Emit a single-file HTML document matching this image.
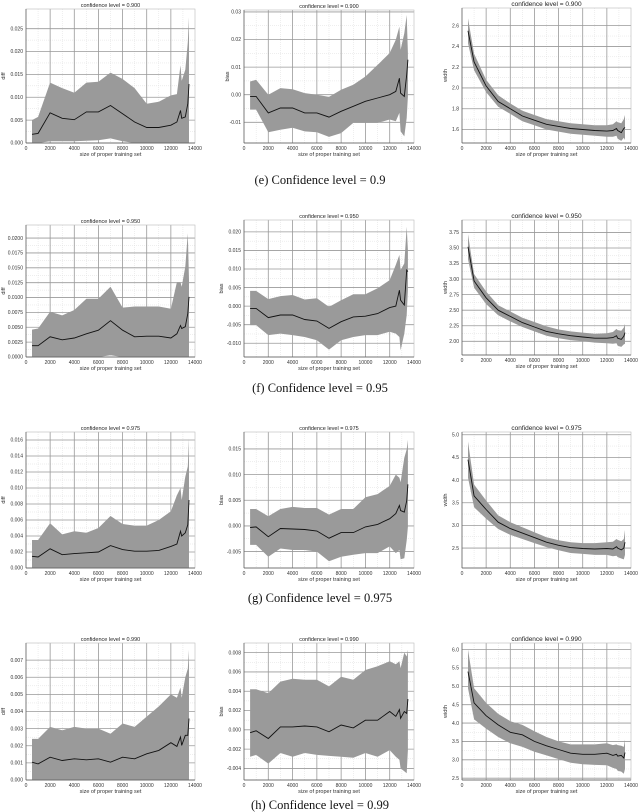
<!DOCTYPE html>
<html><head><meta charset="utf-8"><style>
html,body{margin:0;padding:0;background:#fff;}
svg{display:block;}
text{font-family:"Liberation Sans",sans-serif;}
.cap{font-family:"Liberation Serif",serif;font-size:12.5px;fill:#111;}
</style></head><body>
<svg id="fig" width="640" height="812" viewBox="0 0 640 812" xmlns="http://www.w3.org/2000/svg">
<text class="cap" x="320" y="184" text-anchor="middle">(e) Confidence level = 0.9</text>
<text class="cap" x="320" y="392" text-anchor="middle">(f) Confidence level = 0.95</text>
<text class="cap" x="320" y="602" text-anchor="middle">(g) Confidence level = 0.975</text>
<text class="cap" x="320" y="809" text-anchor="middle">(h) Confidence level = 0.99</text>
</svg>
<script>
const xSizes = [500,1000,2000,3000,4000,5000,6000,7000,8000,9000,10000,11000,12000,12500,12800,12900,13200,13400,13500];
const xTicks = [0,2000,4000,6000,8000,10000,12000,14000];
const levels = ["0.900","0.950","0.975","0.990"];

// Row 1 (0.900)
const r1DiffMean = [.0019,.0021,.0066,.0054,.0051,.0068,.0068,.0082,.0064,.0046,.0034,.0034,.0039,.0046,.0071,.0054,.0057,.0086,.0129];
const r1DiffUpper = [.005,.0057,.0132,.012,.011,.0132,.0134,.0154,.014,.012,.0086,.009,.0104,.0107,.017,.0136,.016,.022,.0275];
const r1DiffLower = [0,0,.0004,.0004,.0004,.0005,.0006,.001,.0004,0,0,0,0,0,0,0,0,0,0];
const r1DiffTicks = [0,.005,.010,.015,.020,.025];
const r1BiasMean = [-.0006,-.0006,-.0066,-.0048,-.0048,-.0066,-.0066,-.0081,-.006,-.0042,-.0024,-.0012,0,.0012,.006,.0006,-.0006,.0072,.0127];
const r1BiasUpper = [.0048,.0054,0,.0024,.002,.0006,0,-.0008,.0018,.0036,.0066,.0108,.0151,.0199,.0247,.0163,.0223,.0289,.0151];
const r1BiasLower = [-.0054,-.0054,-.0136,-.0127,-.012,-.0133,-.0136,-.0153,-.0139,-.0102,-.0102,-.0102,-.009,-.0096,-.0066,-.0133,-.0151,-.0084,-.0006];
const r1BiasTicks = [-.01,0,.01,.02,.03];
const r1WidthMean = [2.55,2.25,2.02,1.87,1.80,1.73,1.69,1.65,1.63,1.61,1.60,1.59,1.585,1.59,1.61,1.59,1.57,1.61,1.62];
const r1WidthUpper = [2.67,2.33,2.08,1.93,1.85,1.78,1.74,1.70,1.68,1.66,1.65,1.64,1.64,1.65,1.68,1.67,1.66,1.70,1.74];
const r1WidthLower = [2.43,2.17,1.96,1.82,1.75,1.68,1.64,1.60,1.58,1.56,1.55,1.54,1.53,1.53,1.54,1.51,1.49,1.52,1.50];
const r1WidthTicks = [1.6,1.8,2.0,2.2,2.4,2.6];

// Row 2 (0.950)
const r2DiffMean = [.0019,.0019,.0034,.0029,.0032,.0039,.0045,.0061,.0045,.0034,.0035,.0035,.0032,.0039,.0053,.0048,.0051,.0073,.0101];
const r2DiffUpper = [.0046,.0048,.0076,.007,.0079,.0098,.0098,.0118,.0083,.0085,.0085,.0085,.0081,.0126,.0126,.0118,.0152,.0208,.0129];
const r2DiffLower = [0,0,0,0,0,0,0,.0003,0,0,0,0,0,0,0,0,0,0,0];
const r2DiffTicks = [0,.0025,.005,.0075,.01,.0125,.015,.0175,.02];
const r2BiasMean = [-.0006,-.0006,-.0031,-.0024,-.0024,-.0036,-.004,-.006,-.0042,-.0029,-.0027,-.002,-.0004,0,.0043,.0016,.0003,.0097,.0093];
const r2BiasUpper = [.0041,.0041,.0019,.0027,.003,.0018,.0021,-.0002,.0016,.0032,.0032,.0048,.007,.0111,.0138,.0097,.0115,.0214,.0151];
const r2BiasLower = [-.0051,-.0051,-.0078,-.0074,-.0078,-.0083,-.0092,-.0117,-.0092,-.0083,-.0078,-.0078,-.0069,-.0074,-.0083,-.0119,-.0074,-.0024,.0043];
const r2BiasTicks = [-.01,-.005,0,.005,.01,.015,.02];
const r2WidthMean = [3.52,2.97,2.70,2.50,2.40,2.30,2.23,2.16,2.12,2.09,2.07,2.05,2.05,2.06,2.09,2.05,2.03,2.08,2.14];
const r2WidthUpper = [3.72,3.08,2.80,2.58,2.48,2.38,2.31,2.24,2.19,2.16,2.14,2.12,2.13,2.15,2.20,2.18,2.17,2.22,2.28];
const r2WidthLower = [3.32,2.86,2.60,2.42,2.32,2.23,2.16,2.09,2.05,2.02,2.00,1.98,1.97,1.96,1.97,1.93,1.91,1.95,1.96];
const r2WidthTicks = [2.0,2.25,2.5,2.75,3.0,3.25,3.5,3.75];

// Row 3 (0.975)
const r3DiffMean = [.00146,.00137,.0024,.00166,.0018,.0019,.002,.0028,.0023,.0021,.0021,.0022,.0027,.003,.0046,.004,.0044,.0054,.0085];
const r3DiffUpper = [.0035,.0035,.0056,.0042,.0046,.0044,.005,.0065,.0055,.0053,.0053,.006,.0071,.0091,.01,.0085,.0114,.0127,.0162];
const r3DiffLower = [0,0,0,0,0,0,0,0,0,0,0,0,0,0,0,0,0,0,0];
const r3DiffTicks = [0,.002,.004,.006,.008,.010,.012,.014,.016];
const r3BiasMean = [-.0003,-.0002,-.0021,-.0005,-.0006,-.0007,-.001,-.0024,-.0013,-.0013,-.0002,.0003,.0014,.0024,.004,.003,.0027,.0049,.0081];
const r3BiasUpper = [.0033,.0033,.0019,.0033,.0037,.0035,.0035,.0022,.0033,.0033,.0056,.0062,.0078,.01,.0094,.0085,.0133,.0149,.0168];
const r3BiasLower = [-.0037,-.0037,-.006,-.0044,-.0047,-.0047,-.005,-.0069,-.006,-.0056,-.0053,-.0053,-.004,-.0053,-.0047,-.0065,-.0063,-.0028,-.0002];
const r3BiasTicks = [-.005,0,.005,.01,.015];
const r3WidthMean = [4.45,3.65,3.35,3.07,2.93,2.83,2.73,2.63,2.56,2.51,2.49,2.48,2.49,2.48,2.53,2.50,2.46,2.50,2.63];
const r3WidthUpper = [4.85,3.90,3.55,3.22,3.07,2.96,2.85,2.74,2.67,2.63,2.61,2.61,2.63,2.64,2.70,2.68,2.65,2.70,2.90];
const r3WidthLower = [4.05,3.40,3.15,2.92,2.79,2.70,2.61,2.52,2.45,2.39,2.37,2.35,2.35,2.32,2.33,2.30,2.27,2.25,2.35];
const r3WidthTicks = [2.5,3.0,3.5,4.0,4.5,5.0];

// Row 4 (0.990)
const r4DiffMean = [.00104,.00094,.00133,.00114,.00124,.00118,.00124,.00104,.00133,.00124,.00153,.00173,.00218,.00196,.00251,.00202,.00261,.00261,.00359];
const r4DiffUpper = [.0024,.0024,.0031,.0029,.0031,.003,.003,.0027,.0033,.0031,.0037,.0043,.005,.0048,.0054,.0048,.006,.0065,.0076];
const r4DiffLower = [0,0,0,0,0,0,0,0,0,0,0,0,0,0,0,0,0,0,0];
const r4DiffTicks = [0,.001,.002,.003,.004,.005,.006,.007];
const r4BiasMean = [-.0003,-.0001,-.0009,.0003,.0003,.0004,.0003,-.0002,.0005,.0002,.001,.001,.0019,.0014,.0021,.0012,.0019,.0017,.0032];
const r4BiasUpper = [.0042,.0042,.0038,.005,.0053,.0052,.0052,.0045,.0055,.0052,.0062,.0066,.0071,.0068,.0071,.0064,.008,.0076,.0083];
const r4BiasLower = [-.0028,-.0026,-.0035,-.0024,-.0028,-.0024,-.0026,-.0027,-.0028,-.0029,-.0024,-.0028,-.0021,-.0028,-.0031,-.004,-.0043,-.0045,-.0021];
const r4BiasTicks = [-.004,-.002,0,.002,.004,.006,.008];
const r4WidthMean = [5.40,4.55,4.20,3.95,3.75,3.68,3.50,3.38,3.28,3.18,3.15,3.15,3.18,3.12,3.15,3.10,3.12,3.05,3.20];
const r4WidthUpper = [6.00,4.95,4.55,4.25,4.05,3.95,3.78,3.62,3.50,3.42,3.42,3.42,3.45,3.40,3.42,3.40,3.38,3.35,3.55];
const r4WidthLower = [4.95,4.10,3.85,3.62,3.45,3.35,3.22,3.12,3.02,2.92,2.88,2.86,2.85,2.78,2.75,2.70,2.68,2.62,2.75];
const r4WidthTicks = [2.5,3.0,3.5,4.0,4.5,5.0,5.5,6.0];

const panels = [
 {row:0,col:0,name:"diff",mean:r1DiffMean,up:r1DiffUpper,lo:r1DiffLower,ticks:r1DiffTicks,dom:[0,.0293],dec:3},
 {row:0,col:1,name:"bias",mean:r1BiasMean,up:r1BiasUpper,lo:r1BiasLower,ticks:r1BiasTicks,dom:[-.0175,.0307],dec:2},
 {row:0,col:2,name:"width",mean:r1WidthMean,up:r1WidthUpper,lo:r1WidthLower,ticks:r1WidthTicks,dom:[1.47,2.77],dec:1},
 {row:1,col:0,name:"diff",mean:r2DiffMean,up:r2DiffUpper,lo:r2DiffLower,ticks:r2DiffTicks,dom:[0,.0222],dec:4},
 {row:1,col:1,name:"bias",mean:r2BiasMean,up:r2BiasUpper,lo:r2BiasLower,ticks:r2BiasTicks,dom:[-.0137,.0232],dec:3},
 {row:1,col:2,name:"width",mean:r2WidthMean,up:r2WidthUpper,lo:r2WidthLower,ticks:r2WidthTicks,dom:[1.78,3.95],dec:2},
 {row:2,col:0,name:"diff",mean:r3DiffMean,up:r3DiffUpper,lo:r3DiffLower,ticks:r3DiffTicks,dom:[0,.017],dec:3},
 {row:2,col:1,name:"bias",mean:r3BiasMean,up:r3BiasUpper,lo:r3BiasLower,ticks:r3BiasTicks,dom:[-.0082,.0183],dec:3},
 {row:2,col:2,name:"width",mean:r3WidthMean,up:r3WidthUpper,lo:r3WidthLower,ticks:r3WidthTicks,dom:[2.06,5.06],dec:1},
 {row:3,col:0,name:"diff",mean:r4DiffMean,up:r4DiffUpper,lo:r4DiffLower,ticks:r4DiffTicks,dom:[0,.008],dec:3},
 {row:3,col:1,name:"bias",mean:r4BiasMean,up:r4BiasUpper,lo:r4BiasLower,ticks:r4BiasTicks,dom:[-.0052,.009],dec:3},
 {row:3,col:2,name:"width",mean:r4WidthMean,up:r4WidthUpper,lo:r4WidthLower,ticks:r4WidthTicks,dom:[2.45,6.18],dec:1}
];
const colX = [[26,195],[244,414],[462,631]];
const rowY = [[[9,143],[10,143],[8,143]],[[225,357],[220,357],[220,355]],[[432,568],[432,568],[432,568]],[[643,780],[643,780],[643,780]]];

const NS = "http://www.w3.org/2000/svg";
const fig = document.getElementById("fig");
function mk(tag, attrs, parent){
  const e = document.createElementNS(NS, tag);
  for (const k in attrs) e.setAttribute(k, attrs[k]);
  parent.appendChild(e);
  return e;
}

panels.forEach(p => {
  const [L,R] = colX[p.col];
  const [T,B] = rowY[p.row][p.col];
  const xS = v => L + (v - 0) / 14000 * (R - L);
  const yS = v => B - (v - p.dom[0]) / (p.dom[1] - p.dom[0]) * (B - T);
  const g = mk("g", {}, fig);
  
  

  for (let i = 0; i < p.ticks.length - 1; i++) {
    const m = (p.ticks[i] + p.ticks[i+1]) / 2;
    if (m > p.dom[0] && m < p.dom[1]) mk("line",{x1:L,x2:R,y1:yS(m),y2:yS(m),stroke:"#ddd","stroke-width":0.5,"stroke-dasharray":"1,1"},g);
  }
  for (let i = 0; i < xTicks.length - 1; i++) {
    const m = (xTicks[i] + xTicks[i+1]) / 2;
    mk("line",{x1:xS(m),x2:xS(m),y1:T,y2:B,stroke:"#ddd","stroke-width":0.5,"stroke-dasharray":"1,1"},g);
  }
  p.ticks.forEach(t => {
    mk("line",{x1:L,x2:R,y1:yS(t),y2:yS(t),stroke:"#999","stroke-width":0.8},g);
    const tl = mk("text",{x:L-3,y:yS(t)+1.7,"font-size":5,"text-anchor":"end",fill:"#333"},g);
    tl.textContent = t.toFixed(p.dec);
    
    
  });
  xTicks.forEach(t => {
    if (t > 0 && t < 14000) mk("line",{x1:xS(t),x2:xS(t),y1:T,y2:B,stroke:"#999","stroke-width":0.8},g);
    const tl = mk("text",{x:xS(t),y:B+7,"font-size":5,"text-anchor":"middle",fill:"#333"},g);
    tl.textContent = String(t);
    
    
  });
  let d = "";
  xSizes.forEach((x,i) => { d += (i ? "L" : "M") + xS(x).toFixed(1) + "," + yS(p.up[i]).toFixed(1); });
  for (let i = xSizes.length - 1; i >= 0; i--) d += "L" + xS(xSizes[i]).toFixed(1) + "," + yS(p.lo[i]).toFixed(1);
  const band = mk("path",{d:d+"Z",fill:"#9a9a9a",stroke:"none"},g);
  
  
  let dl = "";
  xSizes.forEach((x,i) => { dl += (i ? "L" : "M") + xS(x).toFixed(1) + "," + yS(p.mean[i]).toFixed(1); });
  const line = mk("path",{d:dl,fill:"none",stroke:"#111","stroke-width":0.9},g);
  
  
  mk("rect",{x:L,y:T,width:R-L,height:B-T,fill:"none",stroke:"#bbb","stroke-width":0.6},g);
  mk("line",{x1:L,x2:L,y1:T,y2:B,stroke:"#555","stroke-width":0.7},g);
  mk("line",{x1:L,x2:R,y1:B,y2:B,stroke:"#555","stroke-width":0.7},g);
  const tt = mk("text",{x:(L+R)/2,y:Math.max(T-2,6),"font-size":p.col==2?6.5:5.5,"text-anchor":"middle",fill:"#222"},g);
  tt.textContent = "confidence level = " + levels[p.row];
  
  
  const xl = mk("text",{x:(L+R)/2,y:B+13,"font-size":5.5,"text-anchor":"middle",fill:"#333"},g);
  xl.textContent = "size of proper training set";
  
  
  const yc = (T+B)/2, yx = L - (p.dec >= 3 ? 21 : 15);
  const yl = mk("text",{x:yx,y:yc,"font-size":5.5,"text-anchor":"middle",fill:"#333",transform:"rotate(-90 "+yx+" "+yc+")"},g);
  yl.textContent = p.name;
  
  
});
</script>
</body></html>
